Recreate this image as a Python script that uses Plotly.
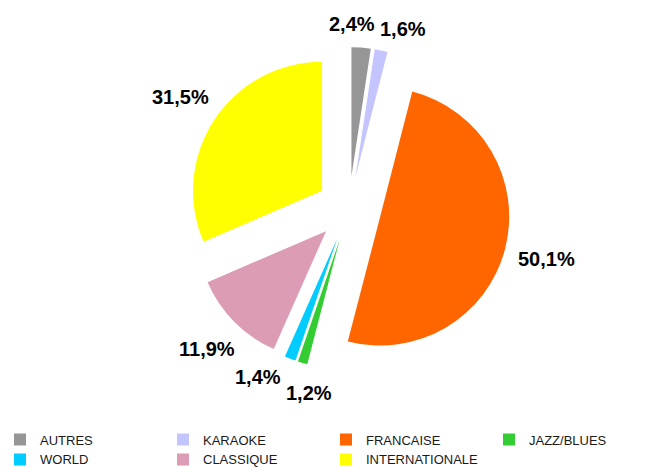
import math
import plotly.graph_objects as go

labels = ["AUTRES", "KARAOKE", "FRANCAISE", "JAZZ/BLUES", "WORLD", "CLASSIQUE", "INTERNATIONALE"]
values = [2.4, 1.6, 50.1, 1.2, 1.4, 11.9, 31.5]
colors = ["#969696", "#C4C4FF", "#FF6600", "#33CC33", "#00CCFF", "#DC9CB5", "#FFFF00"]
pulls = [0.25, 0.25, 0.25, 0.25, 0.25, 0.25, 0.25]

W, H = 650, 468
cx, cy = 349.0, 208.5      # pie centre in pixels (from top-left)
R_PX = 129.0               # pie radius in pixels
half = R_PX * (1 + max(pulls))
LABEL_SIZE = 20
FONT = "Arial, Liberation Sans, sans-serif"

fig = go.Figure(go.Pie(
    labels=labels,
    values=values,
    marker=dict(colors=colors, line=dict(width=0)),
    pull=pulls,
    sort=False,
    direction="clockwise",
    rotation=0,
    textinfo="none",
    domain=dict(x=[(cx - half) / W, (cx + half) / W], y=[(H - cy - half) / H, (H - cy + half) / H]),
    hoverinfo="label+percent",
))

# ---- outside percentage labels, placed from the data (Excel-like, no leader lines)
R = R_PX
char_w = {"0": .556, "1": .556, "2": .556, "3": .556, "4": .556, "5": .556, "6": .556,
          "7": .556, "8": .556, "9": .556, ",": .278, "%": .889}
total = sum(values)
cum = 0.0
boxes = []
for v, p in zip(values, pulls):
    th = (cum + v / 2) / total * 2 * math.pi
    cum += v
    dx, dy = math.sin(th), -math.cos(th)
    sx, sy = cx + dx * p * R, cy + dy * p * R
    txt = f"{v:.1f}".replace(".", ",") + "%"
    hw = sum(char_w.get(c, .6) for c in txt) * LABEL_SIZE / 2
    hh = 8
    d = R + 13 + abs(dx) * hw + abs(dy) * hh
    boxes.append(dict(x=sx + dx * d, y=sy + dy * d, hw=hw, hh=hh, th=th, txt=txt))


def overlap(a, b, gap=5):
    return (abs(a["x"] - b["x"]) < a["hw"] + b["hw"] + gap) and (abs(a["y"] - b["y"]) < a["hh"] + b["hh"] + gap)


for _ in range(200):
    moved = False
    for i in range(len(boxes) - 1):
        a, b = boxes[i], boxes[i + 1]
        if overlap(a, b):
            a["x"] -= 0.8 * math.cos(a["th"]); a["y"] -= 0.8 * math.sin(a["th"])
            b["x"] += 1.2 * math.cos(b["th"]); b["y"] += 1.2 * math.sin(b["th"])
            moved = True
    if not moved:
        break

for bx in boxes:
    fig.add_annotation(
        x=bx["x"] / W, y=1 - bx["y"] / H, xref="paper", yref="paper",
        text=bx["txt"], showarrow=False, xanchor="center", yanchor="middle",
        font=dict(family=FONT, size=LABEL_SIZE, color="black", weight="bold"),
    )

fig.update_layout(
    width=W, height=H,
    margin=dict(l=0, r=0, t=0, b=0, autoexpand=False),
    paper_bgcolor="white",
    plot_bgcolor="white",
    showlegend=True,
    legend=dict(
        orientation="h",
        x=0.0, xanchor="left",
        y=-0.014, yanchor="bottom",
        entrywidth=118, entrywidthmode="pixels",
        itemwidth=30,
        font=dict(family=FONT, size=13, color="#1a1a1a"),
        traceorder="normal",
    ),
)

fig.write_html("out.html", config={"displayModeBar": False},
               post_script="document.body.style.margin='0px';")
